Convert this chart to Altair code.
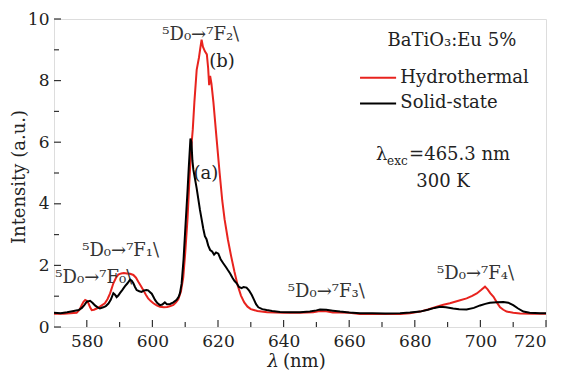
import altair as alt
import pandas as pd

# ---------------- data ----------------
red_nm = [570, 573, 576.9, 577.8, 578.4, 579, 579.5, 580, 580.5, 581, 581.5, 582.2, 583, 584, 585.5,
          586.3, 587.1, 588.1, 588.9, 589.6, 590.5, 591.3, 592.2, 593.2, 594.2, 595, 595.7, 596.5,
          597.2, 598, 598.7, 599.5, 600.3, 601.3, 602.3, 603.5, 604.5, 605.5, 606.4, 607.2, 607.9,
          608.7, 609.4, 610, 610.7, 611.3, 611.9, 612.3, 612.8, 613.5, 614.2, 614.6, 615.0, 615.4,
          616.0, 616.6, 617.0, 617.3, 617.6, 618.0, 618.6, 619.5, 620.5, 621.3, 622, 623, 624, 625,
          626, 627, 628, 629, 630, 632, 635, 640, 645, 649, 651.1, 653, 655, 657, 660, 663.3, 668,
          672, 675.5, 678.5, 681.6, 684, 686.7, 688.7, 690.7, 693.3, 695.8, 697.5, 698.9, 700.2,
          701.4, 702.2, 703.0, 704.0, 705.0, 706, 707, 708, 710, 712.1, 716, 720]
red_int = [0.43, 0.43, 0.46, 0.56, 0.70, 0.82, 0.88, 0.85, 0.77, 0.64, 0.55, 0.56, 0.60, 0.66, 0.77,
           0.90, 1.09, 1.42, 1.60, 1.70, 1.74, 1.75, 1.74, 1.73, 1.69, 1.60, 1.47, 1.33,
           1.20, 1.05, 0.93, 0.84, 0.77, 0.70, 0.66, 0.64, 0.65, 0.68, 0.72, 0.80, 0.90,
           1.15, 1.60, 2.40, 3.50, 4.80, 5.90, 6.40, 7.30, 8.35, 8.75, 9.05, 9.33, 9.10,
           8.95, 8.85, 8.40, 7.85, 8.15, 7.90, 7.30, 6.20, 5.00, 4.10, 3.50, 2.85, 2.30, 1.80,
           1.35, 1.02, 0.80, 0.66, 0.58, 0.52, 0.48, 0.46, 0.46, 0.48, 0.52, 0.51, 0.47, 0.47, 0.46, 0.42, 0.42,
           0.42, 0.42, 0.45, 0.50, 0.57, 0.66, 0.72, 0.77, 0.85, 0.93, 1.01, 1.09, 1.20,
           1.31, 1.22, 1.10, 0.98, 0.80, 0.64, 0.56, 0.50, 0.46, 0.44, 0.43, 0.43]

black_nm = [570, 572, 574, 576, 577.5, 578.5, 579.3, 580, 581, 581.8, 582.5, 583.3, 584, 585, 585.8,
            586.6, 587.3, 588.1, 588.6, 589.1, 589.6, 590.1, 590.8, 591.6, 592.4, 593.2, 593.7,
            594.2, 594.7, 595.2, 596, 596.7, 597.5, 598.2, 598.7, 599.3, 599.8, 600.3, 600.8,
            601.5, 602.3, 603, 603.8, 604.4, 605.4, 606.4, 607.4, 608.0, 608.4, 608.9, 609.5,
            610.2, 610.7, 611.1, 611.6, 611.9, 612.2, 612.5, 613.0, 613.5, 614.0, 614.5, 615.0,
            615.5, 616.0, 616.5, 617.0, 617.6, 618.2, 618.8, 619.4, 620.1, 620.8, 621.6, 622.4,
            623.0, 623.7, 624.4, 625.0, 625.7, 626.4, 627.2, 627.8, 628.7, 629.5, 630.3, 631.0,
            631.6, 632.3, 633.5, 634.8, 636.5, 638.9, 642, 645, 648, 650, 651.1, 653, 655, 657.2,
            660, 663.3, 667, 671, 675.5, 678.5, 681.6, 684, 686, 687.7, 689.5, 691.7, 693.5,
            695.8, 698, 699.9, 701.5, 702.9, 705, 707, 708.5, 710, 711.5, 713.1, 715, 718.2, 720]
black_int = [0.46, 0.45, 0.48, 0.52, 0.55, 0.62, 0.72, 0.82, 0.85, 0.78, 0.70, 0.64, 0.60, 0.64, 0.68,
             0.76, 0.88, 1.10, 1.05, 0.97, 1.02, 1.10, 1.20, 1.32, 1.42, 1.54, 1.50,
             1.42, 1.30, 1.20, 1.16, 1.14, 1.19, 1.20, 1.19, 1.13, 1.08, 0.98, 0.88,
             0.78, 0.71, 0.73, 0.80, 0.74, 0.75, 0.80, 0.88, 0.98, 1.10, 1.40, 2.20,
             3.50, 4.40, 5.20, 6.12, 6.00, 5.40, 5.10, 4.80, 4.50, 4.15, 3.80, 3.50,
             3.20, 2.95, 2.85, 2.65, 2.50, 2.45, 2.35, 2.42, 2.38, 2.20, 2.07, 1.95,
             1.85, 1.74, 1.60, 1.50, 1.42, 1.30, 1.26, 1.30, 1.28, 1.18, 1.04, 0.88,
             0.74, 0.64, 0.58, 0.55, 0.52, 0.49, 0.48, 0.48, 0.50, 0.54, 0.57, 0.56, 0.53, 0.50,
             0.47, 0.45, 0.45, 0.44, 0.45, 0.47, 0.50, 0.56, 0.62, 0.66, 0.64, 0.60, 0.58,
             0.57, 0.62, 0.70, 0.75, 0.79, 0.80, 0.81, 0.79, 0.71, 0.60, 0.50, 0.46, 0.45, 0.45]

series_names = ["Hydrothermal", "Solid-state"]
series_colors = ["#e8231e", "#000000"]

x_major = [580, 600, 620, 640, 660, 680, 700, 720]
x_minor = [590, 610, 630, 650, 670, 690, 710]
y_major = [0, 2, 4, 6, 8, 10]
y_minor = [1, 3, 5, 7, 9]

ann_text = ["⁵D₀→⁷F₂\\", "⁵D₀→⁷F₁\\", "⁵D₀→⁷F₀\\", "⁵D₀→⁷F₃\\", "⁵D₀→⁷F₄\\"]
ann_x = [603.0, 578.6, 570.4, 641.3, 686.8]
ann_y = [9.48, 2.47, 1.59, 1.14, 1.72]

tag_text = ["(b)", "(a)", "BaTiO₃:Eu 5%", "300 K"]
tag_x = [621.2, 616.3, 691.3, 688.6]
tag_y = [8.6, 4.97, 9.3, 4.71]

# ---------------- chart ----------------
W, H = 492, 308
FONT = "DejaVu Serif"
TXT = "#222222"

xs = alt.Scale(domain=[570, 720], nice=False, zero=False)
ys = alt.Scale(domain=[0, 10], nice=False, zero=False)

red_df = pd.DataFrame({"nm": red_nm, "I": red_int})
black_df = pd.DataFrame({"nm": black_nm, "I": black_int})

x_axis = alt.Axis(values=x_major, title=None, ticks=False, domain=False, grid=False,
                  labelFont=FONT, labelFontSize=17, labelColor=TXT, labelPadding=6,
                  format="d")
y_axis = alt.Axis(values=y_major, title=None, ticks=False, domain=False, grid=False,
                  labelFont=FONT, labelFontSize=17, labelColor=TXT, labelPadding=5,
                  format="d")

# annotation texts (behind curves)
ann_df = pd.DataFrame({"x": ann_x, "y": ann_y, "t": ann_text})
ann = alt.Chart(ann_df).mark_text(font=FONT, fontSize=18, color="#333333",
                                  align="left", baseline="middle").encode(
    x=alt.X("x:Q", scale=xs), y=alt.Y("y:Q", scale=ys), text="t:N")

tag_df = pd.DataFrame({"x": tag_x, "y": tag_y, "t": tag_text})
tags = alt.Chart(tag_df).mark_text(font=FONT, fontSize=18, color=TXT,
                                   align="center", baseline="middle").encode(
    x=alt.X("x:Q", scale=xs), y=alt.Y("y:Q", scale=ys), text="t:N")

red_line = alt.Chart(red_df).mark_line(color=series_colors[0], strokeWidth=2, clip=True).encode(
    x=alt.X("nm:Q", scale=xs, axis=x_axis),
    y=alt.Y("I:Q", scale=ys, axis=y_axis),
)
black_line = alt.Chart(black_df).mark_line(color=series_colors[1], strokeWidth=2, clip=True).encode(
    x=alt.X("nm:Q", scale=xs),
    y=alt.Y("I:Q", scale=ys),
)

# legend
leg_df = pd.DataFrame({"name": series_names, "x1": [663.3, 663.3], "x2": [674.3, 674.3],
                       "y": [8.09, 7.26], "tx": [675.6, 675.6]})
leg_lines = alt.Chart(leg_df).mark_rule(strokeWidth=2).encode(
    x=alt.X("x1:Q", scale=xs), x2="x2:Q", y=alt.Y("y:Q", scale=ys),
    color=alt.Color("name:N", scale=alt.Scale(domain=series_names, range=series_colors), legend=None))
leg_text = alt.Chart(leg_df).mark_text(font=FONT, fontSize=18, color=TXT, align="left",
                                       baseline="middle").encode(
    x=alt.X("tx:Q", scale=xs), y=alt.Y("y:Q", scale=ys), text="name:N")

# lambda_exc text
exc_df = pd.DataFrame({"x": [668.2], "y": [5.58]})
lam = alt.Chart(exc_df).mark_text(font=FONT, fontSize=18, color=TXT, align="left",
                                  baseline="middle", text="λ").encode(
    x=alt.X("x:Q", scale=xs), y=alt.Y("y:Q", scale=ys))
exc = alt.Chart(exc_df).mark_text(font=FONT, fontSize=12, color=TXT, align="left",
                                  baseline="middle", text="exc", dx=11, dy=6).encode(
    x=alt.X("x:Q", scale=xs), y=alt.Y("y:Q", scale=ys))
val = alt.Chart(exc_df).mark_text(font=FONT, fontSize=18, color=TXT, align="left",
                                  baseline="middle", text="=465.3 nm", dx=33).encode(
    x=alt.X("x:Q", scale=xs), y=alt.Y("y:Q", scale=ys))

# inward ticks
xmaj = alt.Chart(pd.DataFrame({"v": x_major})).mark_rule(color="#333333", strokeWidth=1.2).encode(
    x=alt.X("v:Q", scale=xs), y=alt.value(H), y2=alt.value(H - 7))
xmin = alt.Chart(pd.DataFrame({"v": x_minor})).mark_rule(color="#333333", strokeWidth=1.2).encode(
    x=alt.X("v:Q", scale=xs), y=alt.value(H), y2=alt.value(H - 5))
ymaj = alt.Chart(pd.DataFrame({"v": y_major})).mark_rule(color="#333333", strokeWidth=1.2).encode(
    y=alt.Y("v:Q", scale=ys), x=alt.value(0), x2=alt.value(7))
ymin = alt.Chart(pd.DataFrame({"v": y_minor})).mark_rule(color="#333333", strokeWidth=1.2).encode(
    y=alt.Y("v:Q", scale=ys), x=alt.value(0), x2=alt.value(5))

# axis titles
one = pd.DataFrame({"a": [0]})
ytitle = alt.Chart(one).mark_text(font=FONT, fontSize=18, color=TXT, angle=270,
                                  align="center", baseline="middle", text="Intensity (a.u.)").encode(
    x=alt.value(-34), y=alt.value(158))
xlam = alt.Chart(one).mark_text(font=FONT, fontSize=18, color=TXT, fontStyle="italic",
                                align="right", baseline="middle", text="λ").encode(
    x=alt.value(225), y=alt.value(343))
xnm = alt.Chart(one).mark_text(font=FONT, fontSize=18, color=TXT,
                               align="left", baseline="middle", text="(nm)").encode(
    x=alt.value(229), y=alt.value(343))

chart = alt.layer(
    red_line, ann, tags, black_line, leg_lines, leg_text, lam, exc, val,
    xmaj, xmin, ymaj, ymin, ytitle, xlam, xnm
).properties(
    width=W, height=H,
    autosize=alt.AutoSizeParams(type="none"),
    padding={"left": 46, "top": 11, "right": 9, "bottom": 46},
).configure_view(
    stroke="#333333", strokeWidth=1.3
).configure(background="white")

chart.save("out.html", embed_options={"renderer": "svg", "actions": False})
